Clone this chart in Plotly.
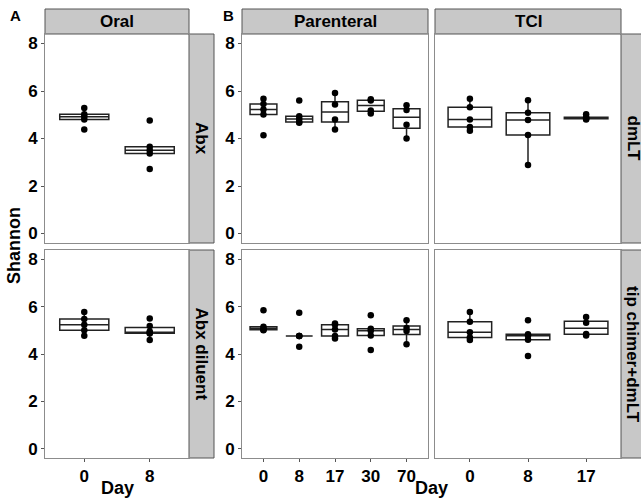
import numpy as np
import plotly.graph_objects as go

# ---------------- data ----------------
oral_days = ["0", "8"]
tci_days = ["0", "8", "17"]
par_days = ["0", "8", "17", "30", "70"]

oral_abx = {
    "0": [4.38, 4.80, 4.92, 5.02, 5.28],
    "8": [2.72, 3.37, 3.51, 3.65, 4.76],
}
oral_diluent = {
    "0": [4.77, 5.01, 5.24, 5.48, 5.78],
    "8": [4.59, 4.87, 4.90, 4.95, 5.18, 5.50],
}
par_dmlt = {
    "0": [4.14, 5.01, 5.22, 5.45, 5.67],
    "8": [4.66, 4.69, 4.82, 4.94, 5.60],
    "17": [4.38, 4.80, 5.43, 5.92],
    "30": [5.05, 5.18, 5.60, 5.65],
    "70": [4.00, 4.58, 5.20, 5.40],
}
tci_dmlt = {
    "0": [4.33, 4.48, 4.80, 5.32, 5.67],
    "8": [2.88, 4.15, 4.78, 5.08, 5.61],
    "17": [4.80, 4.83, 4.86, 4.89, 5.02],
}
par_tip = {
    "0": [5.00, 5.03, 5.08, 5.15, 5.85],
    "8": [4.31, 4.76, 4.76, 4.76, 5.75],
    "17": [4.66, 4.76, 5.04, 5.24, 5.29],
    "30": [4.17, 4.78, 4.98, 5.07, 5.64],
    "70": [4.41, 4.97, 5.10, 5.43],
}
tci_tip = {
    "0": [4.59, 4.70, 4.92, 5.36, 5.78],
    "8": [3.92, 4.60, 4.77, 4.84, 5.43],
    "17": [4.78, 4.85, 5.32, 5.57],
}

col_labels = ["Oral", "Parenteral", "TCI"]
row_labels_a = ["Abx", "Abx diluent"]
row_labels_b = ["dmLT", "tip chimer+dmLT"]
y_ticks = [0, 2, 4, 6, 8]

# ---------------- layout geometry (pixels) ----------------
W, H = 641, 500
FONT = "Liberation Sans, Arial, sans-serif"
TICK_SIZE = 17
STRIP_SIZE = 17
TITLE_SIZE = 18
px_x = lambda v: v / W
px_y = lambda v: 1 - v / H

row_top = (34, 243)
row_bot = (250, 458)
col_a = (45, 189)
col_par = (242, 428)
col_tci = (435, 621)

panels = [
    (oral_abx, oral_days, col_a, row_top, False, True),
    (oral_diluent, oral_days, col_a, row_bot, True, True),
    (par_dmlt, par_days, col_par, row_top, False, True),
    (tci_dmlt, tci_days, col_tci, row_top, False, False),
    (par_tip, par_days, col_par, row_bot, True, True),
    (tci_tip, tci_days, col_tci, row_bot, True, False),
]

fig = go.Figure()
layout = {}


def box_stats(vals):
    v = np.sort(np.asarray(vals, dtype=float))
    q1, med, q3 = np.percentile(v, [25, 50, 75])
    iqr = q3 - q1
    lo = v[v >= q1 - 1.5 * iqr].min()
    hi = v[v <= q3 + 1.5 * iqr].max()
    return q1, med, q3, lo, hi


for i, (data, days, xc, yr, showx, showy) in enumerate(panels, start=1):
    xa = "x" if i == 1 else f"x{i}"
    ya = "y" if i == 1 else f"y{i}"
    for d in days:
        vals = data[d]
        q1, med, q3, lo, hi = box_stats(vals)
        fig.add_trace(go.Box(
            x=[d], q1=[q1], median=[med], q3=[q3],
            lowerfence=[lo], upperfence=[hi],
            width=0.75, boxpoints=False,
            fillcolor="white", line=dict(color="#222222", width=1.5),
            whiskerwidth=0, xaxis=xa, yaxis=ya, showlegend=False,
            hoverinfo="skip",
        ))
        fig.add_trace(go.Scatter(
            x=[d] * len(vals), y=vals, mode="markers",
            marker=dict(color="black", size=6.5),
            xaxis=xa, yaxis=ya, showlegend=False, hoverinfo="skip",
        ))
    xkey = "xaxis" if i == 1 else f"xaxis{i}"
    ykey = "yaxis" if i == 1 else f"yaxis{i}"
    layout[xkey] = dict(
        domain=[px_x(xc[0]), px_x(xc[1])], anchor=ya,
        type="category", categoryorder="array", categoryarray=days,
        range=[-0.6, len(days) - 0.4],
        showline=True, mirror=True, linecolor="#8c8c8c", linewidth=1,
        showgrid=False, zeroline=False,
        ticks="outside" if showx else "", ticklen=3, tickcolor="#555555",
        showticklabels=showx,
        tickfont=dict(family=FONT, size=TICK_SIZE, color="black", weight="bold"),
    )
    layout[ykey] = dict(
        domain=[px_y(yr[1]), px_y(yr[0])], anchor=xa,
        range=[-0.4, 8.4], tickvals=y_ticks,
        showline=True, mirror=True, linecolor="#8c8c8c", linewidth=1,
        showgrid=False, zeroline=False,
        ticks="outside" if showy else "", ticklen=3, tickcolor="#555555",
        showticklabels=showy,
        tickfont=dict(family=FONT, size=TICK_SIZE, color="black", weight="bold"),
    )

shapes = []
annotations = []
STRIP_FILL = "#c8c8c8"
STRIP_LINE = "#555555"


def strip(x0, x1, y0, y1, text, angle=0):
    shapes.append(dict(type="rect", xref="paper", yref="paper",
                       x0=px_x(x0), x1=px_x(x1), y0=px_y(y1), y1=px_y(y0),
                       fillcolor=STRIP_FILL, line=dict(color=STRIP_LINE, width=1),
                       layer="below"))
    annotations.append(dict(xref="paper", yref="paper",
                            x=px_x((x0 + x1) / 2), y=px_y((y0 + y1) / 2),
                            text=f"<b>{text}</b>", showarrow=False, textangle=angle,
                            font=dict(family=FONT, size=STRIP_SIZE, color="black"),
                            xanchor="center", yanchor="middle"))


strip(col_a[0], col_a[1], 9, 34, col_labels[0])
strip(col_par[0], col_par[1], 9, 34, col_labels[1])
strip(col_tci[0], col_tci[1], 9, 34, col_labels[2])
strip(189, 214, row_top[0], row_top[1], row_labels_a[0], 90)
strip(189, 214, row_bot[0], row_bot[1], row_labels_a[1], 90)
strip(621, 645, row_top[0], row_top[1], row_labels_b[0], 90)
strip(621, 645, row_bot[0], row_bot[1], row_labels_b[1], 90)


def label(x, y, text, size, angle=0):
    annotations.append(dict(xref="paper", yref="paper", x=px_x(x), y=px_y(y),
                            text=f"<b>{text}</b>", showarrow=False, textangle=angle,
                            font=dict(family=FONT, size=size, color="black"),
                            xanchor="center", yanchor="middle"))


label(15, 15, "A", 15)
label(228, 15, "B", 15)
label(14, 246, "Shannon", TITLE_SIZE, -90)
label((col_a[0] + col_a[1]) / 2, 488, "Day", TITLE_SIZE)
label((col_par[0] + col_tci[1]) / 2, 488, "Day", TITLE_SIZE)

fig.update_layout(
    width=W, height=H, margin=dict(l=0, r=0, t=0, b=0),
    paper_bgcolor="white", plot_bgcolor="white",
    shapes=shapes, annotations=annotations, **layout,
)

fig.write_html(
    "out.html",
    config={"displayModeBar": False},
    post_script="document.body.style.margin='0';document.body.style.overflow='hidden';",
)
